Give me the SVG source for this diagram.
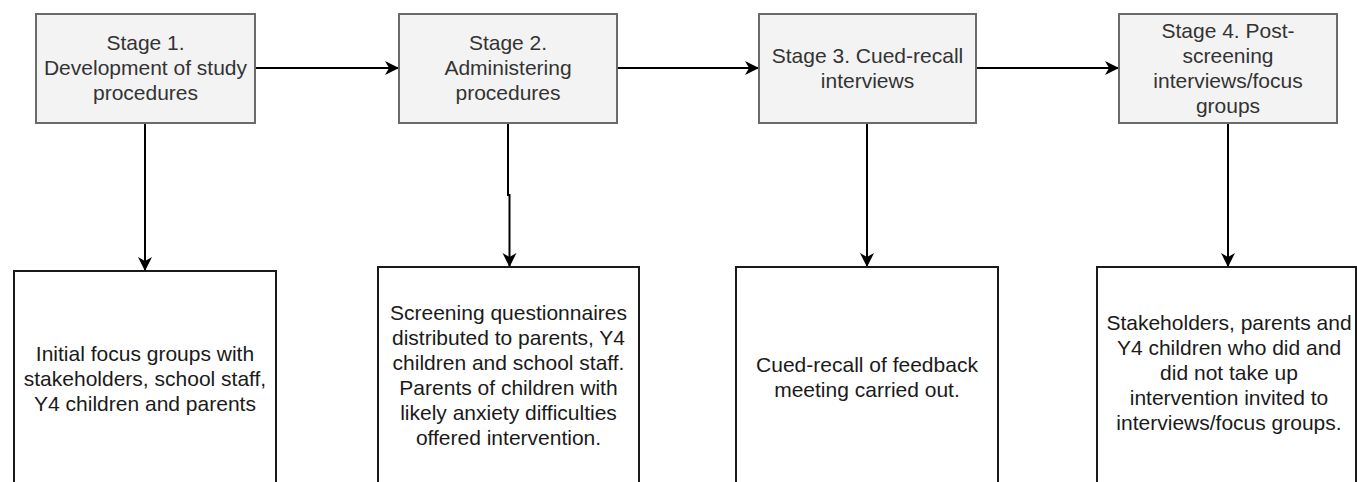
<svg xmlns="http://www.w3.org/2000/svg" width="1357" height="482" viewBox="0 0 1357 482">
<style>
.stage{fill:#f3f3f3;stroke:#6b6b6b;stroke-width:2}
.detail{fill:#ffffff;stroke:#1a1a1a;stroke-width:2}
.t{font-family:"Liberation Sans",Arial,sans-serif;font-size:21px;text-anchor:middle}
.ts{fill:#333333}
.td{fill:#1a1a1a}
.conn{fill:none;stroke:#000000;stroke-width:2}
</style>
<defs>
<marker id="arr" markerUnits="userSpaceOnUse" markerWidth="15" markerHeight="15" refX="14" refY="7" orient="auto">
<path d="M0,0 L14,7 L0,14 L4,7 z" fill="#000000"/>
</marker>
</defs>
<rect width="1357" height="482" fill="#ffffff"/>
<g id="connectors">
<line class="conn" x1="255" y1="68" x2="399" y2="68" marker-end="url(#arr)"/>
<line class="conn" x1="617" y1="68" x2="759" y2="68" marker-end="url(#arr)"/>
<line class="conn" x1="976" y1="68" x2="1119" y2="68" marker-end="url(#arr)"/>
<line class="conn" x1="145" y1="123" x2="145" y2="271" marker-end="url(#arr)"/>
<path class="conn" d="M508,123 V195 H509.5 V267" marker-end="url(#arr)"/>
<line class="conn" x1="867" y1="123" x2="867" y2="267" marker-end="url(#arr)"/>
<line class="conn" x1="1228" y1="123" x2="1228" y2="267" marker-end="url(#arr)"/>
</g>
<g id="stage1">
<rect class="stage" x="36" y="14" width="219" height="109"/>
<text class="t ts" x="145.5" y="50">Stage 1.</text>
<text class="t ts" x="145.5" y="75">Development of study</text>
<text class="t ts" x="145.5" y="100">procedures</text>
</g>
<g id="stage2">
<rect class="stage" x="399" y="14" width="218" height="109"/>
<text class="t ts" x="508" y="50">Stage 2.</text>
<text class="t ts" x="508" y="75">Administering</text>
<text class="t ts" x="508" y="100">procedures</text>
</g>
<g id="stage3">
<rect class="stage" x="759" y="14" width="217" height="109"/>
<text class="t ts" x="867.5" y="63">Stage 3. Cued-recall</text>
<text class="t ts" x="867.5" y="88">interviews</text>
</g>
<g id="stage4">
<rect class="stage" x="1119" y="14" width="218" height="109"/>
<text class="t ts" x="1228" y="38">Stage 4. Post-</text>
<text class="t ts" x="1228" y="63">screening</text>
<text class="t ts" x="1228" y="88">interviews/focus</text>
<text class="t ts" x="1228" y="113">groups</text>
</g>
<g id="detail1">
<rect class="detail" x="14" y="271" width="262" height="220"/>
<text class="t td" x="145" y="361">Initial focus groups with</text>
<text class="t td" x="145" y="386">stakeholders, school staff,</text>
<text class="t td" x="145" y="411">Y4 children and parents</text>
</g>
<g id="detail2">
<rect class="detail" x="378" y="267" width="261" height="224"/>
<text class="t td" x="508.5" y="320">Screening questionnaires</text>
<text class="t td" x="508.5" y="345">distributed to parents, Y4</text>
<text class="t td" x="508.5" y="370">children and school staff.</text>
<text class="t td" x="508.5" y="395">Parents of children with</text>
<text class="t td" x="508.5" y="420">likely anxiety difficulties</text>
<text class="t td" x="508.5" y="445">offered intervention.</text>
</g>
<g id="detail3">
<rect class="detail" x="736" y="267" width="262" height="224"/>
<text class="t td" x="867" y="372">Cued-recall of feedback</text>
<text class="t td" x="867" y="397">meeting carried out.</text>
</g>
<g id="detail4">
<rect class="detail" x="1097" y="267" width="259" height="224"/>
<text class="t td" x="1229" y="330">Stakeholders, parents and</text>
<text class="t td" x="1229" y="355">Y4 children who did and</text>
<text class="t td" x="1229" y="380">did not take up</text>
<text class="t td" x="1229" y="405">intervention invited to</text>
<text class="t td" x="1229" y="430">interviews/focus groups.</text>
</g>
</svg>
